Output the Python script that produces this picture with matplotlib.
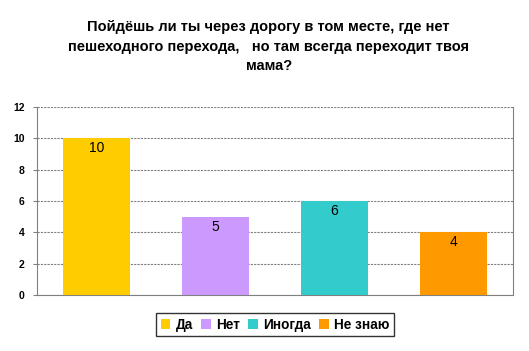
import numpy as np
import matplotlib
matplotlib.use("Agg")
import matplotlib.pyplot as plt

plt.rcParams['font.family'] = ['Liberation Sans', 'DejaVu Sans']

categories = ["Да", "Нет", "Иногда", "Не знаю"]
values = [10, 5, 6, 4]
colors = ["#FFCC00", "#CC99FF", "#33CCCC", "#FF9900"]
title = "Пойдёшь ли ты через дорогу в том месте, где нет\nпешеходного перехода,   но там всегда переходит твоя\nмама?"

fig = plt.figure(figsize=(5.29, 3.51), dpi=100)
ax = fig.add_axes([0.070, 0.160, 0.900, 0.535])

x = np.arange(len(categories))
for i in range(len(categories)):
    ax.bar(x[i], values[i], width=0.56, color=colors[i], label=categories[i], zorder=3)
    ax.text(x[i], values[i] - 0.2, str(values[i]), ha="center", va="top", fontsize=10, zorder=4)

ax.set_xlim(-0.5, len(categories) - 0.5)
ax.set_ylim(0, 12)
ax.set_yticks(range(0, 13, 2))
ax.set_xticks([])
for lab in ax.get_yticklabels():
    lab.set_fontweight("bold")
    lab.set_fontsize(7.5)
ax.tick_params(axis="y", direction="out", length=3, color="#808080", pad=6)
ax.yaxis.grid(True, color="#808080", linestyle=(0, (2, 1)), linewidth=0.8, zorder=0)

ax.spines["top"].set_visible(False)
ax.spines["left"].set_color("#808080")
ax.spines["bottom"].set_color("#808080")
ax.spines["bottom"].set_linestyle((0, (2, 1)))
ax.spines["right"].set_color("#808080")
ax.spines["right"].set_linestyle((0, (2, 1)))

fig.text(0.508, 0.943, title, ha="center", va="top", fontsize=10.5, fontweight="bold", linespacing=1.5)

leg = fig.legend(loc="center", bbox_to_anchor=(0.520, 0.075), ncol=4, fontsize=9.8,
                 frameon=True, fancybox=False, edgecolor="black", handlelength=0.7,
                 handleheight=0.7, handletextpad=0.4, columnspacing=0.6, borderpad=0.35)
leg.get_frame().set_linewidth(1.0)
for t in leg.get_texts():
    t.set_fontweight("bold")

fig.savefig("out.png", dpi=100)
